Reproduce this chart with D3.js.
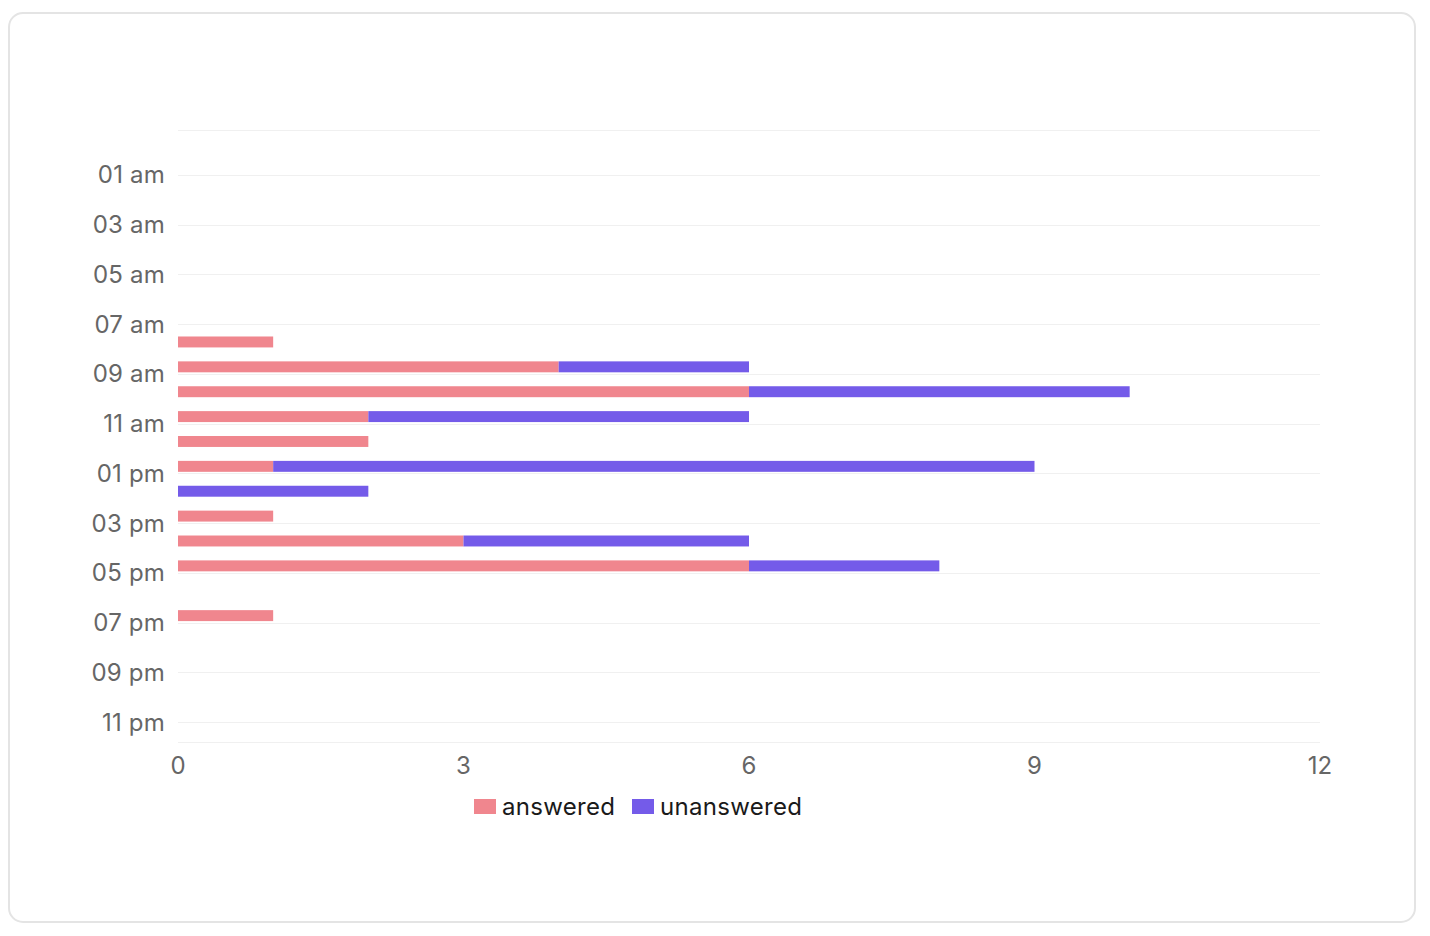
<!DOCTYPE html>
<html>
<head>
<meta charset="utf-8">
<script src="https://cdn.jsdelivr.net/npm/d3@7"></script>
<style>
  body { margin: 0; background: #fff; font-family: Inter, "Noto Sans", sans-serif; }
</style>
</head>
<body>
<div id="HourChart"></div>
<script>
// hours of the day, 0..23
var hours = d3.range(0, 24);
// labels shown on the y axis (every other hour)
var hourLabels = ["01 am", "03 am", "05 am", "07 am", "09 am", "11 am",
                  "01 pm", "03 pm", "05 pm", "07 pm", "09 pm", "11 pm"];
var labelHours = [1, 3, 5, 7, 9, 11, 13, 15, 17, 19, 21, 23];

// counts per hour
var answered =   [0,0,0,0,0,0,0,0, 1,4,6,2,2,1,0,1,3,6,0,1, 0,0,0,0];
var unanswered = [0,0,0,0,0,0,0,0, 0,2,4,4,0,8,2,0,3,2,0,0, 0,0,0,0];

var xTicks = [0, 3, 6, 9, 12];
var seriesNames = ["answered", "unanswered"];
var colors = ["#f0868e", "#745be9"];

var width = 1430, height = 936;

var svg = d3.select("#HourChart").append("svg")
    .attr("width", width).attr("height", height);

// card
svg.append("rect")
    .attr("x", 9).attr("y", 13)
    .attr("width", 1406).attr("height", 909)
    .attr("rx", 14)
    .attr("fill", "#fff")
    .attr("stroke", "#e4e4e4")
    .attr("stroke-width", 2);

var x = d3.scaleLinear().domain([0, 12]).range([178, 1320]);
// hour index -> y position of the tick
var y = d3.scaleLinear().domain([-0.8, 23.8]).range([130, 742]);

var dataJson = hours.map(function (h) {
    return {x: h, answered: answered[h], unanswered: unanswered[h]};
});

var stack = d3.stack().keys(seriesNames);
var series = stack(dataJson);

var g = svg.append("g");

// grid lines
g.append("g").selectAll("line")
    .data([-0.8].concat(labelHours, [23.8]))
    .enter().append("line")
    .attr("x1", x(0)).attr("x2", x(12))
    .attr("y1", function (d) { return Math.round(y(d)) + 0.5; })
    .attr("y2", function (d) { return Math.round(y(d)) + 0.5; })
    .attr("stroke", "#f0f0f0")
    .attr("stroke-width", 1);

// y labels
g.append("g").selectAll("text")
    .data(labelHours)
    .enter().append("text")
    .attr("x", 165)
    .attr("y", function (d) { return y(d); })
    .attr("dy", "0.36em")
    .attr("text-anchor", "end")
    .attr("font-size", "24px")
    .attr("letter-spacing", "0.2px")
    .attr("fill", "#666")
    .text(function (d, i) { return hourLabels[i]; });

// x labels
g.append("g").selectAll("text")
    .data(xTicks)
    .enter().append("text")
    .attr("x", function (d) { return x(d); })
    .attr("y", 765)
    .attr("dy", "0.36em")
    .attr("text-anchor", "middle")
    .attr("font-size", "24px")
    .attr("fill", "#666")
    .text(function (d) { return d; });

// bars, sitting in the upper part of each hour slot
var serie = g.selectAll(".serie")
    .data(series)
    .enter().append("g").attr("class", "serie")
    .attr("fill", function (d, i) { return colors[i]; });

serie.selectAll("rect")
    .data(function (d) { return d.filter(function (p) { return p[1] > p[0]; }); })
    .enter().append("rect")
    .attr("x", function (d) { return x(d[0]); })
    .attr("y", function (d) { return y(d.data.x - 0.5); })
    .attr("width", function (d) { return x(d[1]) - x(d[0]); })
    .attr("height", function (d) { return y(d.data.x - 0.06) - y(d.data.x - 0.5); });

// legend
var legend = svg.append("g");
var legendX = [474, 632];
seriesNames.forEach(function (name, i) {
    legend.append("rect")
        .attr("x", legendX[i]).attr("y", 799)
        .attr("width", 22).attr("height", 15)
        .attr("fill", colors[i]);
    legend.append("text")
        .attr("x", legendX[i] + 28).attr("y", 806)
        .attr("dy", "0.36em")
        .attr("font-size", "24px")
        .attr("letter-spacing", "0.3px")
        .attr("fill", "#1a1a1a")
        .text(name);
});
</script>
</body>
</html>
